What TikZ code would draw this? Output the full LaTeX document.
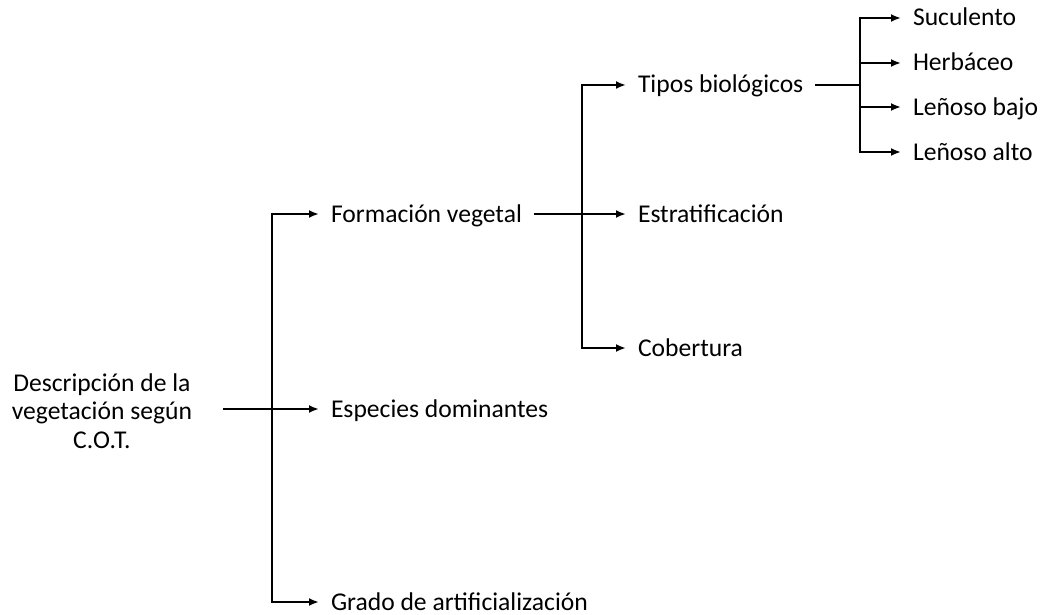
\documentclass[tikz,border=0pt]{standalone}
\usepackage{fontspec}
\setmainfont{Carlito}
\usetikzlibrary{arrows.meta,positioning}
\begin{document}
\begin{tikzpicture}[x=1pt,y=1pt]
    \tikzstyle{every node}=[font=\fontsize{25.6}{28.5}\selectfont, inner sep=0pt, outer xsep=12pt]
    \tikzset{
        lbl/.style={anchor=west, text height=16pt, text depth=0pt},
        ln/.style={line width=2pt},
        arr/.style={ln, -{Latex[length=10pt,width=8pt]}}
        }
    \useasboundingbox (0,0) rectangle (1043,-615);

    %root
    \node (root) [align=center, anchor=east] at (204,-411) {Descripción de la\\vegetación según\\C.O.T.};

    %first level
    \node (formacion) [lbl] at (319,-214) {Formación vegetal};
    \node (especies) [lbl] at (319,-409) {Especies dominantes};
    \node (grado) [lbl] at (319,-602) {Grado de artificialización};

    %second level
    \node (tipos) [lbl] at (626,-85) {Tipos biológicos};
    \node (estrat) [lbl] at (626,-214) {Estratificación};
    \node (cobertura) [lbl] at (626,-348) {Cobertura};

    %third level
    \node (suculento) [lbl] at (901,-18) {Suculento};
    \node (herbaceo) [lbl] at (901,-63) {Herbáceo};
    \node (lbajo) [lbl] at (901,-107) {Leñoso bajo};
    \node (lalto) [lbl] at (901,-152) {Leñoso alto};

    %branch points
    \coordinate (b1) at (272,-409);
    \coordinate (b2) at (582,-214);
    \coordinate (b3) at (860,-85);

    \draw[ln] (root.east |- b1) ++(19,0) -- (b1);
    \draw[arr] (b1) |- (formacion.west);
    \draw[arr] (b1) -- (especies.west);
    \draw[arr] (b1) |- (grado.west);

    \draw[ln] (formacion.east) -- (b2);
    \draw[arr] (b2) |- (tipos.west);
    \draw[arr] (b2) -- (estrat.west);
    \draw[arr] (b2) |- (cobertura.west);

    \draw[ln] (tipos.east) -- (b3);
    \draw[arr] (b3) |- (suculento.west);
    \draw[arr] (b3) |- (herbaceo.west);
    \draw[arr] (b3) |- (lbajo.west);
    \draw[arr] (b3) |- (lalto.west);
\end{tikzpicture}
\end{document}
